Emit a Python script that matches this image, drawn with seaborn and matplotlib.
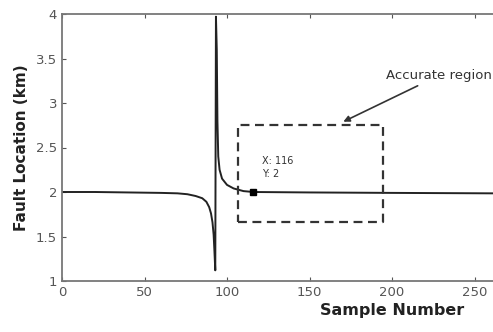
import matplotlib
matplotlib.use("Agg")
import matplotlib.pyplot as plt
import seaborn as sns
import pandas as pd

# ---- data ----
sample = [0, 20, 40, 60, 70, 76, 81, 85, 87.5, 89.2, 90.3, 91.2, 91.9, 92.4, 92.9,
          93.3, 93.8, 94.2, 94.7, 95.5, 97, 100, 104, 110, 116, 150, 200, 260, 300, 400]
fault_km = [2.0, 2.0, 1.995, 1.99, 1.985, 1.975, 1.955, 1.93, 1.89, 1.83, 1.76, 1.66, 1.52, 1.33, 1.12,
            3.97, 3.6, 2.8, 2.4, 2.25, 2.15, 2.08, 2.04, 2.01, 2.0, 1.995, 1.99, 1.985, 1.985, 1.98]
xticks = [0, 50, 100, 150, 200, 250]
xtick_labels = ["0", "50", "100", "150", "200", "250"]
yticks = [1, 1.5, 2, 2.5, 3, 3.5, 4]
ytick_labels = ["1", "1.5", "2", "2.5", "3", "3.5", "4"]
marker_x, marker_y = 116, 2
marker_text = "X: 116\nY: 2"
box_x = [106.7, 194.5]
box_y = [1.66, 2.75]
annot_text = "Accurate region"

df = pd.DataFrame({"Sample Number": sample, "Fault Location (km)": fault_km})

sns.set_style("ticks")
plt.rcParams["font.family"] = ["DejaVu Sans"]

fig = plt.figure(figsize=(4.93, 3.32), dpi=100)
ax = fig.add_axes([62 / 493, 51 / 332, 660 / 493, 267 / 332])

sns.lineplot(data=df, x="Sample Number", y="Fault Location (km)", ax=ax,
             color="#222222", linewidth=1.4, estimator=None, sort=False)

ax.plot([marker_x], [marker_y], marker="s", color="black", markersize=5)
ax.text(marker_x + 5, marker_y + 0.15, marker_text, fontsize=7, color="#333333",
        va="bottom", ha="left", linespacing=1.3)

ax.plot([box_x[0], box_x[1], box_x[1], box_x[0], box_x[0]],
        [box_y[0], box_y[0], box_y[1], box_y[1], box_y[0]],
        color="#333333", linewidth=1.6, linestyle=(0, (4, 2.5)))

ax.annotate(annot_text, xy=(170.5, 2.79), xytext=(196.5, 3.31),
            fontsize=9.5, color="#333333", va="center", ha="left",
            arrowprops=dict(arrowstyle="-|>", color="#333333", lw=1.2,
                            shrinkA=1, shrinkB=0, mutation_scale=9))

ax.set_xlim(0, 400)
ax.set_ylim(1, 4)
ax.set_xticks(xticks)
ax.set_xticklabels(xtick_labels)
ax.set_yticks(yticks)
ax.set_yticklabels(ytick_labels)
ax.tick_params(direction="in", top=True, right=True, length=3, width=0.8,
               colors="#555555", labelsize=9.5, labelcolor="#555555")
for s in ax.spines.values():
    s.set_color("#777777")
    s.set_linewidth(1.3)
ax.set_xlabel("Sample Number", fontsize=11.5, fontweight="bold", color="#222222", labelpad=3)
ax.set_ylabel("Fault Location (km)", fontsize=11, fontweight="bold", color="#222222", labelpad=5)

fig.savefig("out.png", dpi=100)
